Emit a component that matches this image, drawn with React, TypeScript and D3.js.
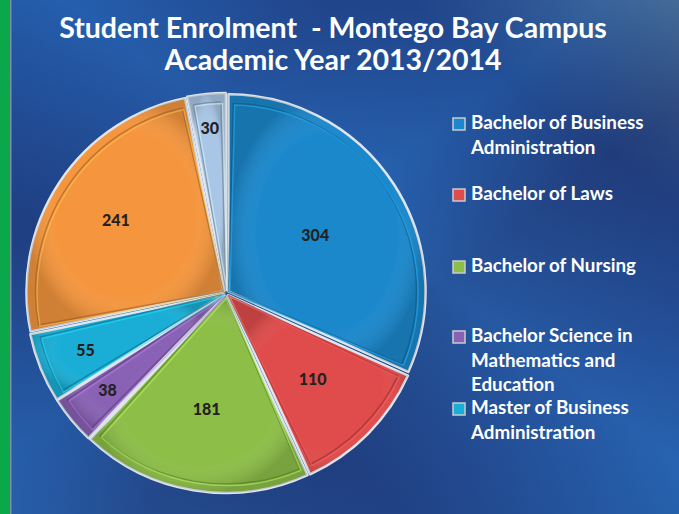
import React from "react";
import * as d3 from "d3";

const categories = [
  "Bachelor of Business Administration",
  "Bachelor of Laws",
  "Bachelor of Nursing",
  "Bachelor Science in Mathematics and Education",
  "Master of Business Administration",
  "Other A",
  "Other B",
];
const values = [304, 110, 181, 38, 55, 241, 30];
const colors = ["#1b88cc", "#e04b4b", "#8dbe48", "#8a62b5", "#1aaed6", "#f5963e", "#a9c6e6"];
const legendLines = [
  ["Bachelor of Business", "Administration"],
  ["Bachelor of Laws"],
  ["Bachelor of Nursing"],
  ["Bachelor Science in", "Mathematics and", "Education"],
  ["Master of Business", "Administration"],
];
const titleLines = ["Student Enrolment  - Montego Bay Campus", "Academic Year 2013/2014"];

const W = 679, H = 514;
const cx = 226, cy = 293, R = 197;
const legendY = [129, 200, 272, 342, 414];
const labelR = [0.54, 0.62, 0.6, 0.78, 0.77, 0.67, 0.84];

export default function App() {
  const pie = d3.pie<number>().sort(null).value((d) => d);
  const arcs = pie(values);
  const arc = d3.arc<d3.PieArcDatum<number>>().innerRadius(0).outerRadius(R);
  const inner = d3.arc<d3.PieArcDatum<number>>().innerRadius(0).outerRadius(R - 9).padAngle(0.05);
  const explode = 3;
  return (
    <div style={{ position: "absolute", left: 0, top: 0 }}>
      <svg width={W} height={H} style={{ display: "block" }}>
        <defs>
          <linearGradient id="bg" x1="0" y1="0" x2="1" y2="1">
            <stop offset="0" stopColor="#1f55a4" />
            <stop offset="0.25" stopColor="#21468e" />
            <stop offset="0.45" stopColor="#2563b2" />
            <stop offset="0.6" stopColor="#22407f" />
            <stop offset="0.8" stopColor="#234b94" />
            <stop offset="1" stopColor="#2460ab" />
          </linearGradient>
          <linearGradient id="stripes" x1="0" y1="1" x2="1" y2="0">
            <stop offset="0" stopColor="#2a66b4" stopOpacity="0.6" />
            <stop offset="0.3" stopColor="#1d3470" stopOpacity="0.4" />
            <stop offset="0.55" stopColor="#2a6cbc" stopOpacity="0.5" />
            <stop offset="0.8" stopColor="#1e3574" stopOpacity="0.4" />
            <stop offset="1" stopColor="#5a7890" stopOpacity="0.6" />
          </linearGradient>
          <radialGradient id="shine" cx="0.5" cy="0.5" r="0.5">
            <stop offset="0.7" stopColor="#ffffff" stopOpacity="0" />
            <stop offset="1" stopColor="#000000" stopOpacity="0.15" />
          </radialGradient>
        </defs>
        <rect x={0} y={0} width={W} height={H} fill="url(#bg)" />
        <rect x={0} y={0} width={W} height={H} fill="url(#stripes)" />
        <rect x={0} y={0} width={10} height={H} fill="#0aa84a" />
        <rect x={10} y={0} width={1.5} height={H} fill="#7d8fa8" />
        <g fontFamily="Lato, 'Open Sans', sans-serif" fontWeight="bold" fill="#ffffff" textAnchor="middle" fontSize={28.5} style={{ whiteSpace: "pre" }}>
          {titleLines.map((t, i) => (
            <text key={i} x={333} y={38 + i * 32} style={{ whiteSpace: "pre" }}>{t}</text>
          ))}
        </g>
        <g transform={`translate(${cx},${cy})`}>
          {arcs.map((a, i) => {
            const mid = (a.startAngle + a.endAngle) / 2;
            const dx = Math.sin(mid) * explode, dy = -Math.cos(mid) * explode;
            const c = d3.color(colors[i])!;
            return (
              <g key={i} transform={`translate(${dx},${dy})`}>
                <path d={arc(a) || ""} fill={colors[i]} stroke="#dfe6ee" strokeWidth={2.5} strokeLinejoin="round" />
                <path d={arc(a) || ""} fill="url(#shine)" />
                <path d={inner(a) || ""} fill="none" stroke={c.darker(1.3).toString()} strokeWidth={1.5} strokeOpacity={0.6} strokeLinejoin="round" />
                <path d={inner(a) || ""} fill="none" stroke={c.brighter(0.8).toString()} strokeWidth={1.5} strokeOpacity={0.5} transform="translate(1.5,1.5)" />
              </g>
            );
          })}
          {arcs.map((a, i) => {
            const mid = (a.startAngle + a.endAngle) / 2;
            const r2 = R * labelR[i];
            const lx = Math.sin(mid) * r2, ly = -Math.cos(mid) * r2;
            return (
              <text key={i} x={lx} y={ly} dy="0.35em" textAnchor="middle" fontFamily="Lato, 'Open Sans', sans-serif" fontWeight="900" fontSize={16} fill="#222222">
                {values[i]}
              </text>
            );
          })}
        </g>
        <g fontFamily="Lato, 'Open Sans', sans-serif" fontWeight="bold" fill="#ffffff" fontSize={18.8}>
          {legendLines.map((lines, i) => (
            <g key={i}>
              <rect x={453} y={legendY[i] - 11} width={12} height={12} fill={colors[i]} stroke="#c8ccd2" strokeWidth={1.5} />
              {lines.map((l, j) => (
                <text key={j} x={471} y={legendY[i] + j * 24.5}>{l}</text>
              ))}
            </g>
          ))}
        </g>
      </svg>
    </div>
  );
}
